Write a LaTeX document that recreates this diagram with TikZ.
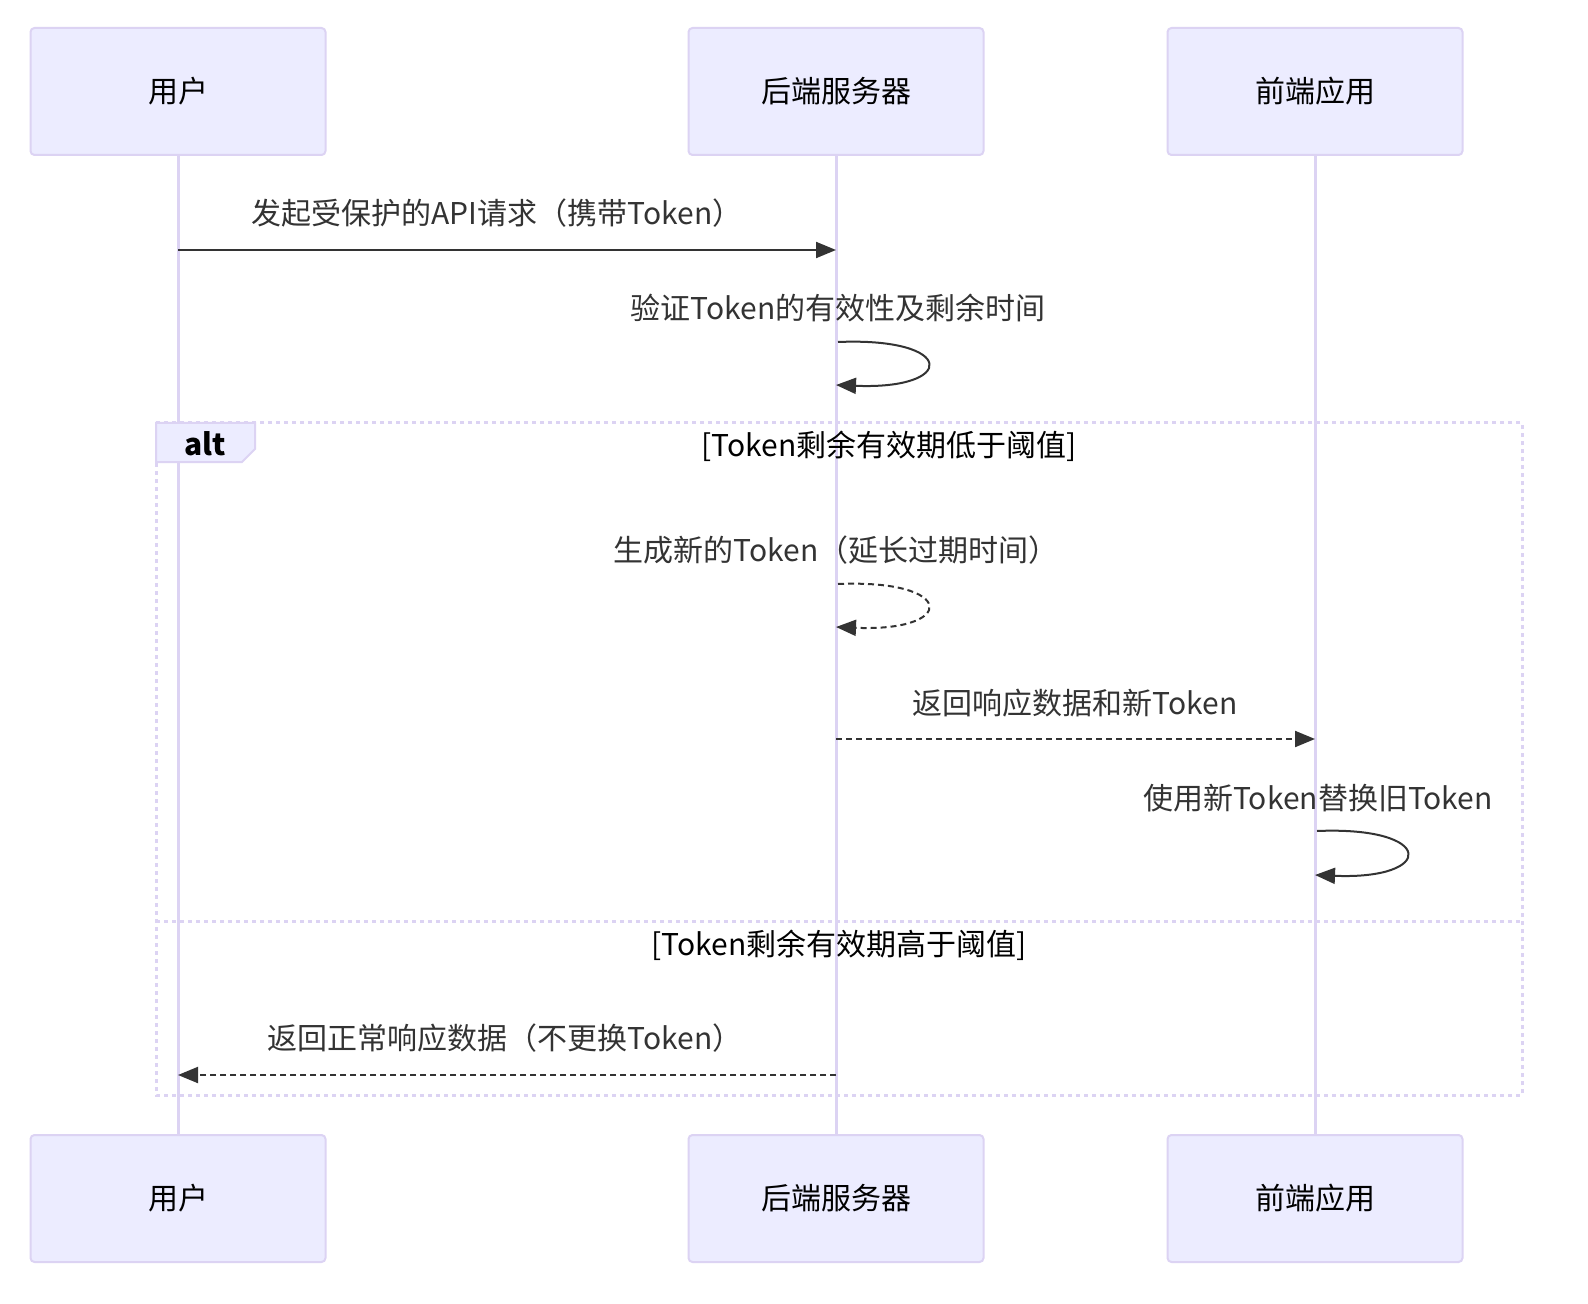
\documentclass[tikz,border=0pt]{standalone}
\usepackage{fontspec}
\setmainfont{Noto Sans CJK SC}
\usetikzlibrary{arrows.meta}
\definecolor{actorfill}{HTML}{ECECFF}
\definecolor{actorline}{HTML}{DCD3F3}
\definecolor{msgcol}{HTML}{333333}
\tikzset{
  actor/.style= {draw=actorline, fill=actorfill, line width=1pt, rounded corners=2pt,
    minimum width=147.5pt, minimum height=63.5pt, font=\fontsize{15}{18}\selectfont},
  lifeline/.style= {draw=actorline, line width=1.5pt},
  msg/.style= {draw=msgcol, line width=1pt, -{Triangle[length=10pt,width=8pt]}},
  reply/.style= {msg, dash pattern=on 3pt off 2pt},
  msgtext/.style= {text=msgcol, font=\fontsize{15}{18}\selectfont},
  frame/.style= {draw=actorline, line width=1.5pt, dash pattern=on 2pt off 2pt},
  condtext/.style= {text=black, font=\fontsize{15}{18}\selectfont},
}

\begin{document}
\begin{tikzpicture}[x=0.5pt, y=-0.5pt]
  \useasboundingbox [fill=white] (0,0) rectangle (1588,1304);

  % actors top and bottom
  \node [actor] (usrtop) at (178,91.5) {用户} ;
  \node [actor] (bkdtop) at (836,91.5) {后端服务器} ;
  \node [actor] (fnttop) at (1315,91.5) {前端应用} ;
  \node [actor] (usrbot) at (178,1198.5) {用户} ;
  \node [actor] (bkdbot) at (836,1198.5) {后端服务器} ;
  \node [actor] (fntbot) at (1315,1198.5) {前端应用} ;

  \draw [lifeline] (usrtop) -- (usrbot) ;
  \draw [lifeline] (bkdtop) -- (bkdbot) ;
  \draw [lifeline] (fnttop) -- (fntbot) ;

  % alt frame
  \draw [frame] (156,423) rectangle (1522,1095) ;
  \draw [frame] (156,921) -- (1522,921) ;
  \draw [actorline, fill=actorfill, line width=1pt]
    (156,423) -- (255,423) -- (255,449) -- (242,462) -- (156,462) -- cycle ;
  \node [condtext, font=\fontsize{15}{18}\selectfont\bfseries] (altlbl) at (205,444) {alt} ;
  \node [condtext] (cond1) at (889,446) {[Token剩余有效期低于阈值]} ;
  \node [condtext] (cond2) at (839,945) {[Token剩余有效期高于阈值]} ;

  % message end points
  \coordinate (m1a) at (178,250) ;
  \coordinate (m1b) at (836,250) ;
  \coordinate (s1a) at (838,342) ;
  \coordinate (s1b) at (836,385) ;
  \coordinate (s2a) at (838,584) ;
  \coordinate (s2b) at (836,627) ;
  \coordinate (m2a) at (836,739) ;
  \coordinate (m2b) at (1315,739) ;
  \coordinate (s3a) at (1317,831) ;
  \coordinate (s3b) at (1315,875) ;
  \coordinate (m3a) at (836,1075) ;
  \coordinate (m3b) at (178,1075) ;

  % messages
  \node [msgtext] (t1) at (497,213) {发起受保护的API请求（携带Token）} ;
  \draw [msg] (m1a) -- (m1b) ;

  \node [msgtext] (t2) at (838,308) {验证Token的有效性及剩余时间} ;
  \draw [msg] (s1a) .. controls (957,337) and (957,390) .. (s1b) ;

  \node [msgtext] (t3) at (836,550) {生成新的Token（延长过期时间）} ;
  \draw [reply] (s2a) .. controls (957,579) and (957,632) .. (s2b) ;

  \node [msgtext] (t4) at (1075,703) {返回响应数据和新Token} ;
  \draw [reply] (m2a) -- (m2b) ;

  \node [msgtext] (t5) at (1318,798) {使用新Token替换旧Token} ;
  \draw [msg] (s3a) .. controls (1436,826) and (1436,880) .. (s3b) ;

  \node [msgtext] (t6) at (505,1038) {返回正常响应数据（不更换Token）} ;
  \draw [reply] (m3a) -- (m3b) ;
\end{tikzpicture}
\end{document}
